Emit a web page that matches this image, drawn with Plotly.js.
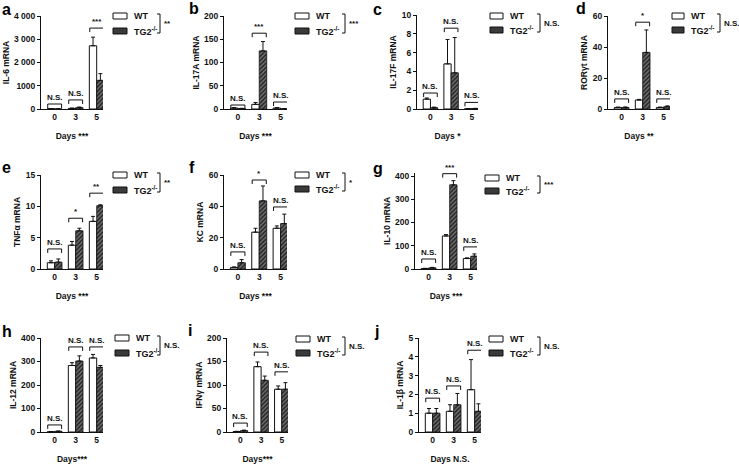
<!DOCTYPE html>
<html>
<head>
<meta charset="utf-8">
<script src="https://cdn.plot.ly/plotly-3.0.1.min.js"></script>
<style>
  html, body { margin: 0; padding: 0; background: #fff; }
  #chart { width: 739px; height: 467px; }
</style>
</head>
<body>
<div id="chart"></div>
<script>
// ---- data -----------------------------------------------------------------
var DAYS = ["0", "3", "5"];
var GROUP_NAMES = ["WT", "TG2<sup>-/-</sup>"];
var PANEL_LETTERS = ["a", "b", "c", "d", "e", "f", "g", "h", "i", "j"];
var Y_TITLES = ["IL-6 mRNA", "IL-17A mRNA", "IL-17F mRNA", "RORγt mRNA", "TNFα mRNA",
  "KC mRNA", "IL-10 mRNA", "IL-12 mRNA", "IFNγ mRNA", "IL-1β mRNA"];
var X_TITLES = ["Days ***", "Days ***", "Days *", "Days **", "Days ***",
  "Days ***", "Days ***", "Days***", "Days***", "Days N.S."];
var Y_MAX = [4000, 200, 10, 60, 15, 60, 400, 400, 200, 5];
var Y_STEP = [1000, 50, 2, 20, 5, 20, 100, 100, 50, 1];
var A_TICKTEXT = ["0", "1000", "2 000", "3 000", "4 000"];

var WT_MEAN = [[15, 25, 2720], [2, 10, 2], [1.05, 4.8, 0.02], [1, 5.8, 1], [1.0, 3.8, 7.6],
  [1, 23.5, 26], [2, 142, 45], [1, 283, 315], [1, 139, 91], [1.0, 1.1, 2.25]];
var WT_ERR = [[5, 15, 370], [1, 4, 1], [0.12, 2.6, 0], [0.2, 0.4, 0.2], [0.3, 0.6, 0.8],
  [0.3, 2.5, 1.5], [1, 6, 3], [1, 12, 15], [0.5, 10, 7], [0.25, 0.35, 1.6]];
var TG2_MEAN = [[5, 60, 1230], [1, 125, 0.5], [0.15, 3.85, 0.05], [1, 36.5, 1.5], [1.1, 6.1, 10.1],
  [4, 43.5, 29], [5, 362, 55], [3, 302, 275], [3, 110, 91], [1.0, 1.45, 1.1]];
var TG2_ERR = [[3, 25, 290], [0.5, 20, 0.3], [0.05, 3.75, 0.02], [0.3, 14.5, 0.5], [0.5, 0.4, 0.15],
  [2, 9.5, 6], [2, 18, 10], [1, 22, 8], [1, 9, 14], [0.25, 0.6, 0.4]];

// significance brackets above each day group
var BRACKET_Y = [[215, 390, 3480], [8.6, 163, 15], [1.7, 8.6, 0.7], [6.5, 56, 6.5], [3.2, 8.1, 12.1],
  [10.9, 56.8, 39.6], [43, 410, 95], [30, 362, 362], [19, 170, 128], [1.8, 2.45, 4.35]];
var BRACKET_TEXT = [["N.S.", "N.S.", "***"], ["N.S.", "***", "N.S."], ["N.S.", "N.S.", "N.S."],
  ["N.S.", "*", "N.S."], ["N.S.", "*", "**"], ["N.S.", "*", "N.S."], ["N.S.", "***", "N.S."],
  ["N.S.", "N.S.", "N.S."], ["N.S.", "N.S.", "N.S."], ["N.S.", "N.S.", "N.S."]];
// genotype effect, shown next to each legend
var GROUP_SIG = ["**", "***", "N.S.", "N.S.", "**", "*", "***", "N.S.", "N.S.", "N.S."];

// ---- panel geometry, in page pixels --------------------------------------
// l/r: x-axis extent, t/b: y-axis extent, box/bw: legend swatch left/width,
// wt/tg: legend row centres, br: legend bracket x, lx/ly: panel letter
var W = 739, H = 467;
var PANELS = [
  { l: 41, r: 103, t: 16, b: 109, box: 113, bw: 14, wt: 16, tg: 31, br: 160, lx: 0, ly: 9 },
  { l: 224, r: 287, t: 16, b: 109, box: 295, bw: 14, wt: 16, tg: 31, br: 345, lx: 187, ly: 8 },
  { l: 417, r: 478, t: 15, b: 109, box: 490, bw: 13, wt: 16, tg: 30, br: 540, lx: 371, ly: 9 },
  { l: 608, r: 670, t: 16, b: 109, box: 672, bw: 12, wt: 16, tg: 30, br: 720, lx: 574, ly: 8 },
  { l: 41, r: 103, t: 175, b: 269, box: 113, bw: 14, wt: 175, tg: 190, br: 160, lx: 0, ly: 167 },
  { l: 224, r: 287, t: 175, b: 269, box: 295, bw: 14, wt: 175, tg: 189, br: 345, lx: 187, ly: 167 },
  { l: 415, r: 477, t: 176, b: 269, box: 485, bw: 14, wt: 178, tg: 191, br: 540, lx: 371, ly: 168 },
  { l: 41, r: 103, t: 338, b: 432, box: 115, bw: 14, wt: 338, tg: 353, br: 160, lx: 0, ly: 331 },
  { l: 227, r: 288, t: 338, b: 432, box: 296, bw: 14, wt: 339, tg: 353, br: 345, lx: 186, ly: 330 },
  { l: 419, r: 481, t: 338, b: 432, box: 489, bw: 14, wt: 339, tg: 353, br: 540, lx: 372, ly: 331 },
];

var FONT = "Liberation Sans, Arial, sans-serif";
var INK = "#111111";

function fx(px) { return px / W; }
function fy(py) { return 1 - py / H; }

var traces = [];
var shapes = [];
var annotations = [];
var layout = {
  width: W,
  height: H,
  margin: { l: 0, r: 0, t: 0, b: 0 },
  paper_bgcolor: "#fff",
  plot_bgcolor: "rgba(0,0,0,0)",
  showlegend: false,
  barmode: "group",
  bargap: 0.3,
  bargroupgap: 0,
  font: { family: FONT, color: INK, size: 8, weight: "bold" },
};

PANELS.forEach(function (g, i) {
  var sfx = i ? String(i + 1) : "";
  var xa = "x" + sfx, ya = "y" + sfx;
  var xpos = DAYS.map(function (d, k) { return k; });

  traces.push({
    type: "bar", x: xpos, y: WT_MEAN[i], xaxis: xa, yaxis: ya, name: "WT",
    marker: { color: "#ffffff", line: { color: INK, width: 1 } },
    error_y: { type: "data", array: WT_ERR[i], arrayminus: [0, 0, 0], symmetric: false,
      color: INK, thickness: 1, width: 2 },
    hoverinfo: "skip",
  });
  traces.push({
    type: "bar", x: xpos, y: TG2_MEAN[i], xaxis: xa, yaxis: ya, name: "TG2-/-",
    marker: { color: "#555555", line: { color: INK, width: 0.8 },
      pattern: { shape: "/", fgcolor: "#1e1e1e", bgcolor: "#6e6e6e", size: 3, solidity: 0.45 } },
    error_y: { type: "data", array: TG2_ERR[i], arrayminus: [0, 0, 0], symmetric: false,
      color: INK, thickness: 1, width: 2 },
    hoverinfo: "skip",
  });

  // y range may need to poke above the top tick (panel g's bracket)
  var bmax = Math.max.apply(null, BRACKET_Y[i]);
  var rTop = bmax > Y_MAX[i] ? bmax * 1.01 : Y_MAX[i];
  var topPx = g.b - (g.b - g.t) * rTop / Y_MAX[i];

  var tickvals = [];
  for (var v = 0; v <= Y_MAX[i] + 1e-9; v += Y_STEP[i]) tickvals.push(+v.toFixed(6));

  layout["xaxis" + sfx] = {
    domain: [fx(g.l), fx(g.r)],
    anchor: ya,
    range: [-0.65, 2.3],
    tickvals: xpos,
    ticktext: DAYS,
    ticks: "",
    showline: true, linecolor: INK, linewidth: 1,
    showgrid: false, zeroline: false, fixedrange: true,
    tickfont: { family: FONT, size: 8.5, color: INK, weight: "bold" },
    title: { text: X_TITLES[i], font: { family: FONT, size: 8.5, color: INK, weight: "bold" }, standoff: 11 },
  };
  layout["yaxis" + sfx] = {
    domain: [fy(g.b), fy(topPx)],
    anchor: xa,
    range: [0, rTop],
    tickvals: tickvals,
    ticktext: i === 0 ? A_TICKTEXT : undefined,
    ticks: "outside", ticklen: 3, tickwidth: 1, tickcolor: INK,
    showline: true, linecolor: INK, linewidth: 1,
    showgrid: false, zeroline: false, fixedrange: true,
    tickfont: { family: FONT, size: 8.5, color: INK, weight: "bold" },
    title: { text: Y_TITLES[i], font: { family: FONT, size: 8.5, color: INK, weight: "bold" }, standoff: 3 },
  };

  // brackets over each day group
  xpos.forEach(function (k) {
    shapes.push({
      type: "path", xref: xa, yref: ya, ysizemode: "pixel", yanchor: BRACKET_Y[i][k],
      path: "M " + (k - 0.33) + ",-4 L " + (k - 0.33) + ",0 L " + (k + 0.33) + ",0 L " + (k + 0.33) + ",-4",
      line: { color: INK, width: 1 },
    });
    annotations.push({
      x: k, y: BRACKET_Y[i][k], xref: xa, yref: ya, yanchor: "bottom", xanchor: "center",
      showarrow: false, text: BRACKET_TEXT[i][k], yshift: 0,
      font: { family: FONT, size: 8, color: INK, weight: "bold" },
    });
  });

  // legend swatches
  shapes.push({ type: "rect", xref: "paper", yref: "paper",
    x0: fx(g.box), x1: fx(g.box + g.bw), y0: fy(g.wt + 3), y1: fy(g.wt - 3),
    fillcolor: "#fff", line: { color: INK, width: 1 } });
  shapes.push({ type: "rect", xref: "paper", yref: "paper",
    x0: fx(g.box), x1: fx(g.box + g.bw), y0: fy(g.tg + 3), y1: fy(g.tg - 3),
    fillcolor: "#3a3a3a", line: { color: INK, width: 1 } });
  annotations.push({ xref: "paper", yref: "paper", x: fx(g.box + g.bw + 5), y: fy(g.wt),
    xanchor: "left", yanchor: "middle", showarrow: false, text: GROUP_NAMES[0],
    font: { family: FONT, size: 9, color: INK, weight: "bold" } });
  annotations.push({ xref: "paper", yref: "paper", x: fx(g.box + g.bw + 5), y: fy(g.tg),
    xanchor: "left", yanchor: "middle", showarrow: false, text: GROUP_NAMES[1],
    font: { family: FONT, size: 9, color: INK, weight: "bold" } });
  // legend bracket + genotype significance
  shapes.push({ type: "path", xref: "paper", yref: "paper",
    path: "M " + fx(g.br - 3) + "," + fy(g.wt - 2) + " L " + fx(g.br) + "," + fy(g.wt - 2) +
      " L " + fx(g.br) + "," + fy(g.tg + 2) + " L " + fx(g.br - 3) + "," + fy(g.tg + 2),
    line: { color: INK, width: 1 } });
  annotations.push({ xref: "paper", yref: "paper", x: fx(g.br + 2), y: fy((g.wt + g.tg) / 2),
    xanchor: "left", yanchor: "middle", showarrow: false, text: GROUP_SIG[i],
    font: { family: FONT, size: 8, color: INK, weight: "bold" } });

  // panel letter
  annotations.push({ xref: "paper", yref: "paper", x: fx(g.lx), y: fy(g.ly),
    xanchor: "left", yanchor: "middle", showarrow: false, text: PANEL_LETTERS[i],
    font: { family: FONT, size: 16, color: "#000", weight: "bold" } });
});

layout.shapes = shapes;
layout.annotations = annotations;

Plotly.newPlot("chart", traces, layout, { displayModeBar: false, staticPlot: true });
</script>
</body>
</html>
